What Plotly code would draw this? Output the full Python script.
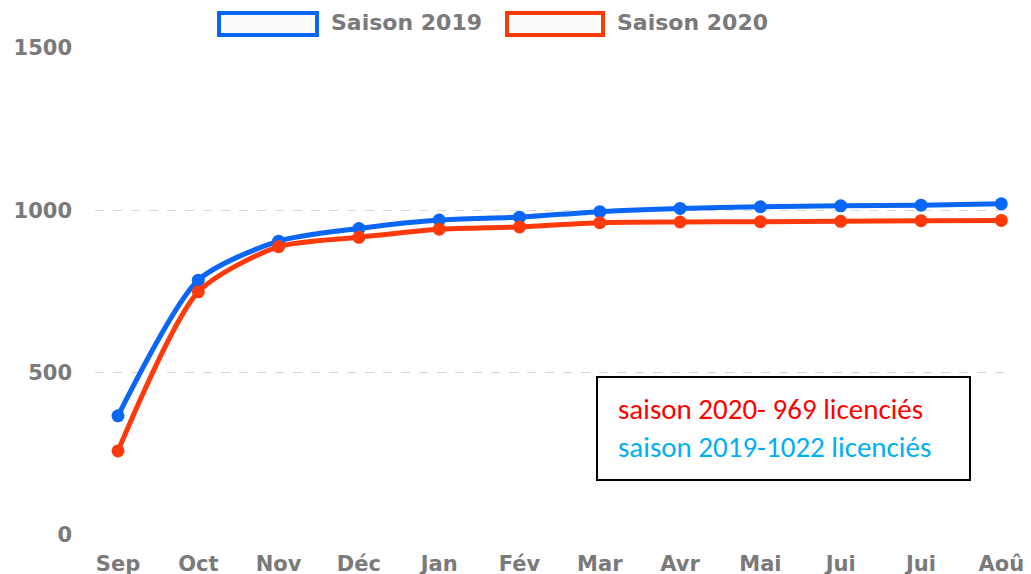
import plotly.graph_objects as go

months = ["Sep", "Oct", "Nov", "Déc", "Jan", "Fév", "Mar", "Avr", "Mai", "Jui", "Jui", "Aoû"]
saison_2019 = [367, 785, 905, 944, 970, 979, 996, 1006, 1011, 1014, 1016, 1020]
saison_2020 = [259, 749, 888, 917, 942, 949, 962, 964, 965, 966, 968, 969]
y_ticks = [0, 500, 1000, 1500]
note_lines = [("saison 2020- 969 licenciés", "#ff0000"), ("saison 2019-1022 licenciés", "#00b0f0")]

BLUE = "#0a66f5"
RED = "#ff3a0a"
GREY = "#7a7a7a"
FONT = "DejaVu Sans, Liberation Sans, Arial"

W, H = 1031, 574
OFF = 8  # page body margin in the browser
# plot area in page pixels
PL, PR, PT, PB = 95, 1010, 48, 535
L, T = PL - OFF, PT - OFF
R, B = W - (PR - OFF), H - (PB - OFF)
PW, PH = PR - PL, PB - PT
X0_PX, STEP_PX = 118, 80.3


def px_x(x):
    return (x - PL) / PW


def px_y(y):
    return (PB - y) / PH


xs = list(range(len(months)))

fig = go.Figure()
for name, vals, col in [("Saison 2019", saison_2019, BLUE), ("Saison 2020", saison_2020, RED)]:
    fig.add_trace(go.Scatter(
        x=xs, y=vals, name=name, mode="lines+markers",
        line=dict(color=col, width=5, shape="spline", smoothing=0.7),
        marker=dict(color=col, size=13),
        showlegend=False, cliponaxis=False,
    ))

# custom legend (outlined rectangles as in the original)
legend_items = [("Saison 2019", BLUE, 219, 317, 329), ("Saison 2020", RED, 507, 603, 615)]
shapes = []
annotations = []
for label, col, x0, x1, tx in legend_items:
    shapes.append(dict(type="rect", xref="paper", yref="paper",
                       x0=px_x(x0), x1=px_x(x1), y0=px_y(35), y1=px_y(13),
                       line=dict(color=col, width=4), fillcolor="#fbfdfb"))
    annotations.append(dict(xref="paper", yref="paper", x=px_x(tx), y=px_y(23),
                            xanchor="left", yanchor="middle", showarrow=False,
                            text="<b>" + label + "</b>",
                            font=dict(family=FONT, size=22, color=GREY)))

# note box
shapes.append(dict(type="rect", xref="paper", yref="paper",
                   x0=px_x(597), x1=px_x(970), y0=px_y(480), y1=px_y(377),
                   line=dict(color="#000000", width=2), fillcolor="#ffffff", layer="above"))
for (txt, col), yy in zip(note_lines, [409, 447]):
    annotations.append(dict(xref="paper", yref="paper", x=px_x(616), y=px_y(yy),
                            xanchor="left", yanchor="middle", showarrow=False,
                            text=txt, font=dict(family="Carlito, Lato, Liberation Sans, Arial",
                                                size=29, color=col)))

fig.update_layout(
    width=W, height=H,
    margin=dict(l=L, r=R, t=T, b=B, autoexpand=False),
    paper_bgcolor="white", plot_bgcolor="white",
    shapes=shapes, annotations=annotations,
    xaxis=dict(
        range=[-(X0_PX - PL) / STEP_PX, (PR - X0_PX) / STEP_PX],
        tickmode="array", tickvals=xs, ticktext=["<b>" + m + "</b>" for m in months],
        showgrid=False, zeroline=False, showline=False, automargin=False,
        ticks="", ticklabelstandoff=14,
        tickfont=dict(family=FONT, size=21, color=GREY),
    ),
    yaxis=dict(
        range=[0, 1500], tickmode="array", tickvals=y_ticks,
        ticktext=["<b>" + str(v) + "</b>" for v in y_ticks],
        showgrid=True, gridcolor="#d8d8d8", griddash="dash", gridwidth=1,
        zeroline=False, showline=False, ticks="", ticklabelstandoff=22, automargin=False,
        tickfont=dict(family=FONT, size=21, color=GREY),
    ),
)

fig.write_html("out.html")
